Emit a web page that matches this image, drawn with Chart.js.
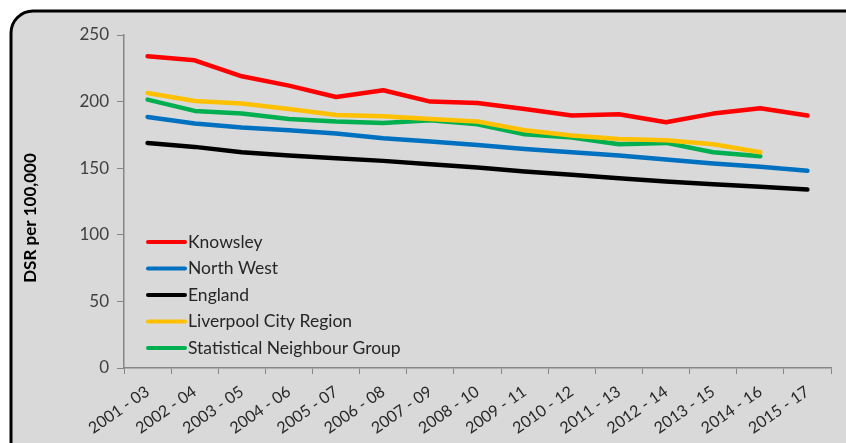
<!DOCTYPE html>
<html>
<head>
<meta charset="utf-8">
<script src="https://cdn.jsdelivr.net/npm/chart.js@4"></script>
<style>
  body { margin: 0; background: #fff; }
  #wrap { width: 846px; height: 443px; }
</style>
</head>
<body>
<div id="wrap"><canvas id="chart" width="846" height="443"></canvas></div>
<script>
// periods on the x axis
const periods = ["2001 - 03", "2002 - 04", "2003 - 05", "2004 - 06", "2005 - 07", "2006 - 08", "2007 - 09",
  "2008 - 10", "2009 - 11", "2010 - 12", "2011 - 13", "2012 - 14", "2013 - 15", "2014 - 16", "2015 - 17"];
// DSR per 100,000 for each area
const knowsley = [234, 231, 219, 212, 203.5, 208.5, 200, 199, 194.5, 189.5, 190.5, 184.5, 191, 195, 189.5];
const northWest = [188.5, 183.5, 180.5, 178.5, 176, 172.5, 170, 167.5, 164.5, 162, 159.5, 156.5, 153.5, 151, 148];
const england = [169, 166, 162, 159.5, 157.5, 155.5, 153, 150.5, 147.5, 145, 142.5, 140, 138, 136, 134];
const liverpoolCR = [206.5, 200.5, 198.5, 194.5, 190, 189, 187, 185, 178.5, 174.5, 172, 171, 168, 162, null];
const statNeighbours = [201.5, 193, 191, 187, 185, 184, 186, 183, 175.5, 173, 168, 169, 162, 159, null];
const yTicks = [0, 50, 100, 150, 200, 250];

const fontFamily = "Lato, 'Open Sans', sans-serif";

//background panel with rounded black border, plus the y axis title
const panelPlugin = {
  id: "panel",
  beforeDraw(chart) {
    const ctx = chart.ctx;
    ctx.save();
    ctx.fillStyle = "#ffffff";
    ctx.fillRect(0, 0, chart.width, chart.height);
    ctx.beginPath();
    ctx.roundRect(11, 11, chart.width + 20, chart.height + 20, 22);
    ctx.fillStyle = "#d9d9d9";
    ctx.fill();
    ctx.lineWidth = 3;
    ctx.strokeStyle = "#000000";
    ctx.stroke();
    // axis title
    ctx.translate(31, 218);
    ctx.rotate(-Math.PI / 2);
    ctx.font = "bold 17px " + fontFamily;
    ctx.fillStyle = "#000000";
    ctx.textAlign = "center";
    ctx.textBaseline = "middle";
    ctx.fillText("DSR per 100,000", 0, 0);
    ctx.restore();
  }
};

//legend drawn inside the plot area
const insideLegend = {
  id: "insideLegend",
  afterDatasetsDraw(chart) {
    const ctx = chart.ctx;
    ctx.save();
    ctx.font = "17.5px " + fontFamily;
    ctx.textBaseline = "middle";
    chart.data.datasets.forEach((ds, i) => {
      const y = 242 + i * 26.5;
      ctx.strokeStyle = ds.borderColor;
      ctx.lineWidth = 4;
      ctx.lineCap = "round";
      ctx.beginPath();
      ctx.moveTo(148, y);
      ctx.lineTo(185, y);
      ctx.stroke();
      ctx.fillStyle = "#262626";
      ctx.fillText(ds.label, 188, y);
    });
    ctx.restore();
  }
};

const series = [
  { label: "Knowsley", data: knowsley, color: "#ff0000" },
  { label: "North West", data: northWest, color: "#0070c0" },
  { label: "England", data: england, color: "#000000" },
  { label: "Liverpool City Region", data: liverpoolCR, color: "#ffc000" },
  { label: "Statistical Neighbour Group", data: statNeighbours, color: "#00b050" },
];

new Chart(document.getElementById("chart"), {
  type: "line",
  plugins: [panelPlugin, insideLegend],
  data: {
    labels: periods,
    datasets: series.map(s => ({
      label: s.label,
      data: s.data,
      borderColor: s.color,
      backgroundColor: s.color,
      borderWidth: 4.5,
      pointRadius: 0,
      tension: 0,
      borderCapStyle: "round",
      borderJoinStyle: "round",
      spanGaps: false,
    })),
  },
  options: {
    responsive: false,
    animation: false,
    layout: { padding: { top: 35, right: 15, left: 0, bottom: 0 } },
    plugins: {
      legend: { display: false },
      tooltip: { enabled: false },
    },
    scales: {
      x: {
        offset: true,
        grid: { offset: true, drawOnChartArea: false, color: "#868686", tickLength: 6, tickColor: "#868686" },
        border: { color: "#868686", width: 1.5 },
        ticks: {
          minRotation: 35, maxRotation: 35, autoSkip: false,
          color: "#262626", font: { family: fontFamily, size: 16 }, padding: 8,
        },
        afterFit(scale) { scale.height = 75; },
      },
      y: {
        min: 0, max: 250,
        afterBuildTicks(scale) { scale.ticks = yTicks.map(v => ({ value: v })); },
        grid: { drawOnChartArea: false, tickLength: 7, tickColor: "#868686" },
        border: { color: "#868686", width: 1.5 },
        ticks: { color: "#404040", font: { family: fontFamily, size: 17 }, padding: 8 },
        afterFit(scale) { scale.width = 124; },
      },
    },
  },
});
</script>
</body>
</html>
